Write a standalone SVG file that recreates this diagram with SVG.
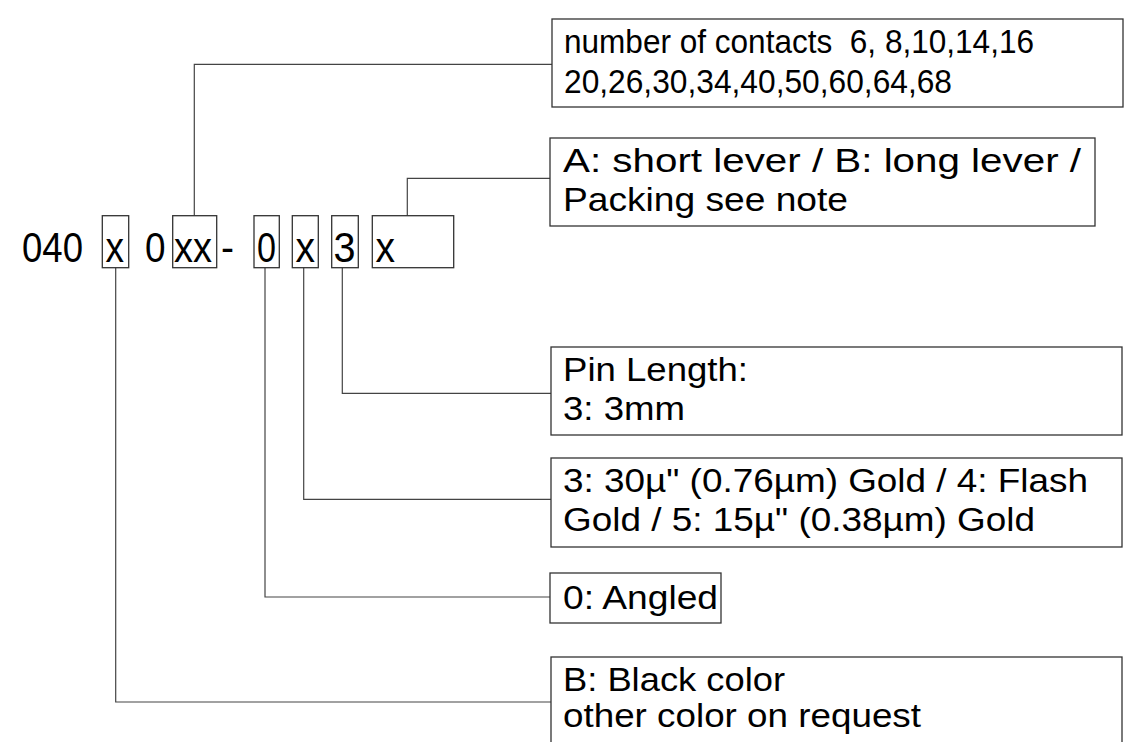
<svg xmlns="http://www.w3.org/2000/svg" width="1144" height="742" viewBox="0 0 1144 742">
<style>
.box{fill:#fff;stroke:#333;stroke-width:1.3}
.sbox{fill:none;stroke:#333;stroke-width:1.3}
.con{fill:none;stroke:#444;stroke-width:1.2}
text{font-family:"Liberation Sans",Arial,sans-serif;fill:#000}
.lab{font-size:34px}
.main{font-size:42px}
</style>
<rect width="1144" height="742" fill="#fff"/>
<g id="connectors">
<polyline class="con" points="194.3,215.7 194.3,64.3 552,64.3"/>
<polyline class="con" points="407.3,215.7 407.3,178.3 550,178.3"/>
<polyline class="con" points="342.3,267.7 342.3,393.3 551,393.3"/>
<polyline class="con" points="303.7,267.7 303.7,499.3 551,499.3"/>
<polyline class="con" points="265,267.7 265,597 550,597"/>
<polyline class="con" points="115.7,267.7 115.7,702 551,702"/>
</g>
<g id="code">
<text class="main" x="22" y="262" textLength="61" lengthAdjust="spacingAndGlyphs">040</text>
<rect class="sbox" x="102.3" y="215.7" width="26.4" height="52"/>
<text class="main" x="105.5" y="262" textLength="18.5" lengthAdjust="spacingAndGlyphs">x</text>
<text class="main" x="145" y="262" textLength="20.5" lengthAdjust="spacingAndGlyphs">0</text>
<rect class="sbox" x="172.7" y="215.7" width="44" height="52"/>
<text class="main" x="174" y="262" textLength="38" lengthAdjust="spacingAndGlyphs">xx</text>
<text class="main" x="221" y="262" textLength="13" lengthAdjust="spacingAndGlyphs">-</text>
<rect class="sbox" x="254" y="215.7" width="25.3" height="52"/>
<text class="main" x="257" y="262" textLength="19" lengthAdjust="spacingAndGlyphs">0</text>
<rect class="sbox" x="292.3" y="215.7" width="26" height="52"/>
<text class="main" x="295.5" y="262" textLength="19.5" lengthAdjust="spacingAndGlyphs">x</text>
<rect class="sbox" x="331.7" y="215.7" width="26.6" height="52"/>
<text class="main" x="333.5" y="262" textLength="22" lengthAdjust="spacingAndGlyphs">3</text>
<rect class="sbox" x="372.3" y="215.7" width="81.4" height="52"/>
<text class="main" x="375.5" y="262" textLength="19.5" lengthAdjust="spacingAndGlyphs">x</text>
</g>
<g id="contacts">
<rect class="box" x="552" y="19" width="571" height="88"/>
<text class="lab" x="564" y="53" textLength="470" lengthAdjust="spacingAndGlyphs">number of contacts&#160; 6, 8,10,14,16</text>
<text class="lab" x="564" y="92.5" textLength="388" lengthAdjust="spacingAndGlyphs">20,26,30,34,40,50,60,64,68</text>
</g>
<g id="lever">
<rect class="box" x="550" y="138" width="545" height="88"/>
<text class="lab" x="563" y="172" textLength="518" lengthAdjust="spacingAndGlyphs">A: short lever / B: long lever /</text>
<text class="lab" x="563" y="211" textLength="285" lengthAdjust="spacingAndGlyphs">Packing see note</text>
</g>
<g id="pin">
<rect class="box" x="551" y="347" width="571" height="88"/>
<text class="lab" x="563" y="381" textLength="185" lengthAdjust="spacingAndGlyphs">Pin Length:</text>
<text class="lab" x="563" y="420" textLength="122" lengthAdjust="spacingAndGlyphs">3: 3mm</text>
</g>
<g id="plating">
<rect class="box" x="551" y="458" width="571" height="89"/>
<text class="lab" x="563" y="492" textLength="525" lengthAdjust="spacingAndGlyphs">3: 30µ" (0.76µm) Gold / 4: Flash</text>
<text class="lab" x="563" y="531" textLength="472" lengthAdjust="spacingAndGlyphs">Gold / 5: 15µ" (0.38µm) Gold</text>
</g>
<g id="angled">
<rect class="box" x="550" y="573" width="171" height="50"/>
<text class="lab" x="563" y="609" textLength="155" lengthAdjust="spacingAndGlyphs">0: Angled</text>
</g>
<g id="color">
<rect class="box" x="551" y="657" width="571" height="100"/>
<text class="lab" x="563" y="691" textLength="222" lengthAdjust="spacingAndGlyphs">B: Black color</text>
<text class="lab" x="563" y="727" textLength="358" lengthAdjust="spacingAndGlyphs">other color on request</text>
</g>
</svg>
